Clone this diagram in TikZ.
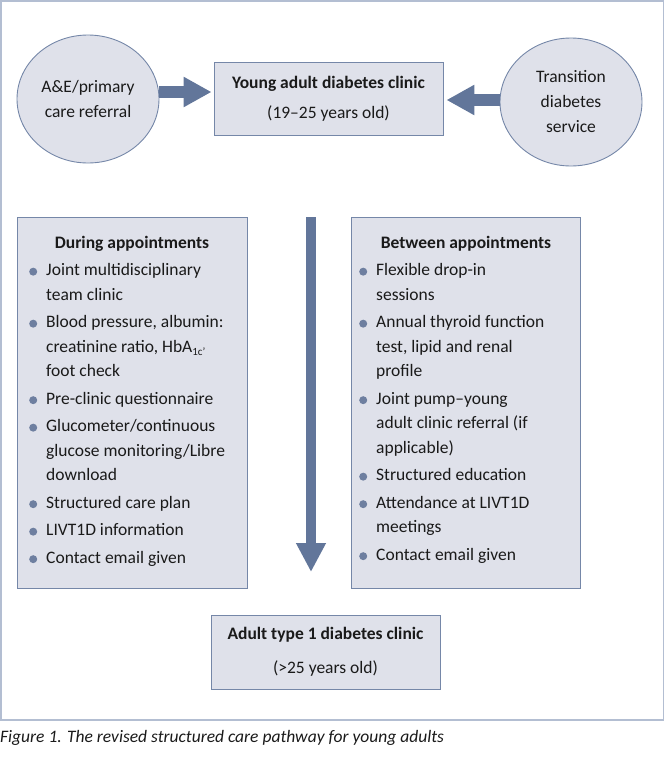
\documentclass[tikz,border=0pt]{standalone}
\usepackage{fontspec}
\setmainfont{Carlito}
\usetikzlibrary{shapes.geometric,arrows.meta}
\definecolor{framec}{HTML}{B3BED2}
\definecolor{panelfill}{HTML}{DFE1EA}
\definecolor{paneldraw}{HTML}{7587A8}
\definecolor{arrowc}{HTML}{62769A}
\definecolor{bulc}{HTML}{6E7FA0}
\definecolor{txt}{HTML}{1A1A1A}
\newcommand{\bul}{\tikz[baseline=-0.5ex]\fill[bulc] (0,0) circle (4pt);}
\tikzset{
  panel/.style={draw=paneldraw, line width=0.9pt, fill=panelfill, inner sep=0pt, text=txt},
  oval/.style={ellipse, draw=paneldraw, line width=0.9pt, fill=panelfill, inner sep=0pt,
    minimum width=142pt, minimum height=128pt, align=center, text=txt,
    font=\fontsize{17.5}{25}\selectfont},
  boxtext/.style={align=center, font=\fontsize{17.5}{25}\selectfont},
  blockarrow/.style={draw=arrowc, line width=12.5pt, -{Triangle[length=28pt,width=28.5pt]}},
  downarrow/.style={draw=arrowc, line width=10pt, -{Triangle[length=29pt,width=28pt]}},
  listtext/.style={anchor=north west, inner sep=0pt, text=txt, align=left,
    font=\fontsize{17.5}{24.5}\selectfont},
  paneltitle/.style={text=txt, inner sep=0pt, font=\fontsize{17.5}{24.5}\selectfont\bfseries}
}
\begin{document}
\begin{tikzpicture}[x=1pt, y=-1pt]
\useasboundingbox (0,0) rectangle (665,764);
% outer frame
\draw[framec, line width=1.5pt] (1,1) rectangle (663.5,720);

% top row
\node[oval] (L) at (88,99) {A\&E/primary\\care referral};
\node[oval] (R) at (571,102) {Transition\\diabetes\\service};
\node[panel, minimum width=229pt, minimum height=73pt, boxtext] (Y) at (328.5,98.5)
  {\textbf{Young adult diabetes clinic}\\[5pt](19--25 years old)};

\draw[blockarrow, shorten >=2pt] (L.east |- 0,92) -- (Y.west |- 0,92);
\draw[blockarrow, shorten >=3pt] (R.west |- 0,100) -- (Y.east |- 0,100);

% left panel
\node[panel, minimum width=230pt, minimum height=371pt, anchor=north west] (during) at (17,217) {};
\node[paneltitle] (duringT) at (132,244) {During appointments};
\node[listtext] (duringL) at (29,258.5) {%
\begin{tabular}[t]{@{}l@{\hspace{9pt}}l@{}}
\bul & Joint multidisciplinary\\
     & team clinic\\[3pt]
\bul & Blood pressure, albumin:\\
     & creatinine ratio, HbA\raisebox{-3.5pt}{\fontsize{11}{11}\selectfont 1c’}\\
     & foot check\\[3pt]
\bul & Pre-clinic questionnaire\\[3pt]
\bul & Glucometer/continuous\\
     & glucose monitoring/Libre\\
     & download\\[3pt]
\bul & Structured care plan\\[3pt]
\bul & LIVT1D information\\[3pt]
\bul & Contact email given
\end{tabular}};

% right panel
\node[panel, minimum width=229pt, minimum height=371pt, anchor=north west] (between) at (351,217) {};
\node[paneltitle] (betweenT) at (466,244) {Between appointments};
\node[listtext] (betweenL) at (359,258.5) {%
\begin{tabular}[t]{@{}l@{\hspace{9pt}}l@{}}
\bul & Flexible drop-in\\
     & sessions\\[3pt]
\bul & Annual thyroid function\\
     & test, lipid and renal\\
     & profile\\[3pt]
\bul & Joint pump--young\\
     & adult clinic referral (if\\
     & applicable)\\[3pt]
\bul & Structured education\\[3pt]
\bul & Attendance at LIVT1D\\
     & meetings\\[3pt]
\bul & Contact email given
\end{tabular}};

% down arrow
\coordinate (dtop) at (311,217);
\coordinate (dtip) at (311,572);
\draw[downarrow] (dtop) -- (dtip);

% bottom box
\node[panel, minimum width=229pt, minimum height=74pt, boxtext] (A) at (325.5,652)
  {\textbf{Adult type 1 diabetes clinic}\\[9pt](>25 years old)};

% caption
\node[anchor=west, inner sep=0pt, text=txt, font=\fontsize{17.5}{20}\selectfont\itshape] (cap) at (0,738)
  {Figure 1. The revised structured care pathway for young adults};
\end{tikzpicture}
\end{document}
